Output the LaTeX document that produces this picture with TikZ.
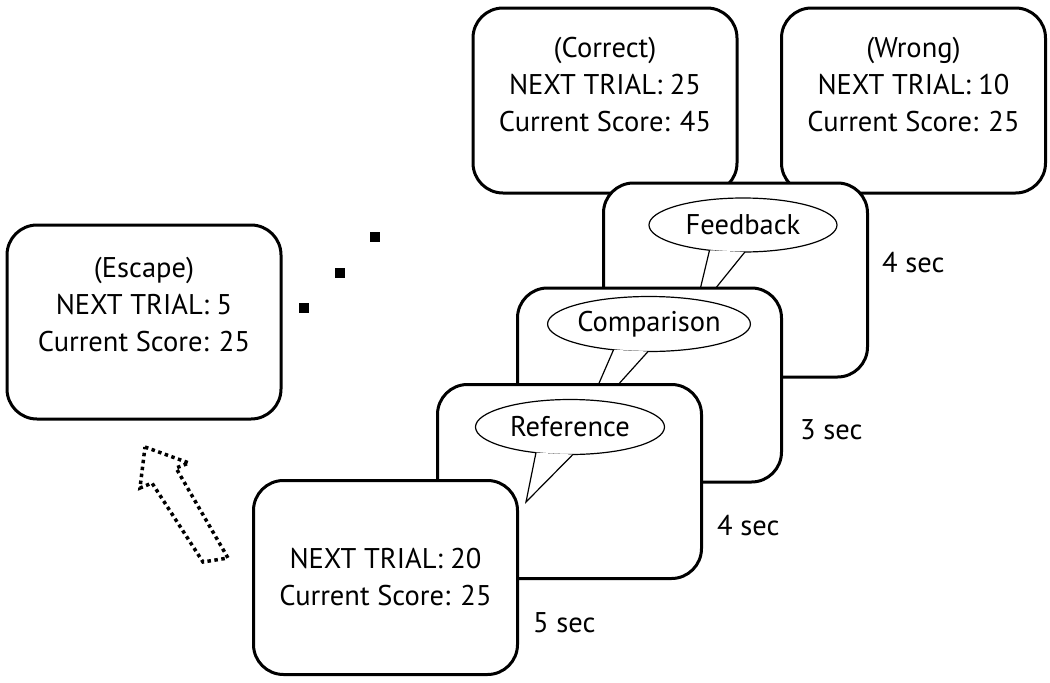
\documentclass[tikz,border=0pt]{standalone}
\usepackage{fontspec}
\setmainfont{PT Sans}
\usetikzlibrary{positioning,shapes.geometric}

\begin{document}
\begin{tikzpicture}
[x=1pt,y=-1pt,
card/.style={draw,line width=3pt,rounded corners=30pt,fill=white,minimum width=264pt,minimum height=194pt},
txt/.style={align=center,font=\fontsize{28.5}{37}\selectfont},
bub/.style={ellipse,draw,line width=1.2pt,fill=white,inner sep=0pt,outer sep=0pt,font=\fontsize{28.5}{37}\selectfont},
sec/.style={anchor=west,inner sep=0pt,font=\fontsize{28.5}{37}\selectfont},
dot/.style={fill=black,inner sep=0pt,minimum size=10pt}]
\useasboundingbox (0,0) rectangle (1050,683);
\node[card,minimum height=185pt] (correct) at (605,100.5) {};
\node[txt] at ([yshift=16pt]correct.center) {(Correct)\\NEXT TRIAL: 25\\Current Score: 45};
\node[card,minimum height=185pt] (wrong) at (913.5,100.5) {};
\node[txt] at ([yshift=16pt]wrong.center) {(Wrong)\\NEXT TRIAL: 10\\Current Score: 25};
\node[card,minimum width=274pt] (escape) at (144,322) {};
\node[txt] at ([yshift=17pt]escape.center) {(Escape)\\NEXT TRIAL: 5\\Current Score: 25};
\node[card] (fbk) at (735.5,280) {};
\node[bub,minimum width=188pt,minimum height=54pt] (fb) at (743,225) {Feedback};
\fill[white] (fb.217) -- (694,315) -- (fb.274) -- cycle;
\draw[line width=1.2pt] (fb.217) -- (694,315) -- (fb.274);
\node[card] (cmpk) at (649.5,385) {};
\node[bub,minimum width=188pt,minimum height=55pt] (cmp) at (649,324) {Comparison};
\fill[white] (cmp.216) -- (580,427) -- (cmp.268) -- cycle;
\draw[line width=1.2pt] (cmp.216) -- (580,427) -- (cmp.268);
\node[card] (refk) at (569.5,481.5) {};
\node[bub,minimum width=189pt,minimum height=55pt] (ref) at (570,427) {Reference};
\fill[white] (ref.217) -- (526,502) -- (ref.276) -- cycle;
\draw[line width=1.2pt] (ref.217) -- (526,502) -- (ref.276);
\node[card] (start) at (385.5,577.5) {};
\node[txt] at (start.center) {NEXT TRIAL: 20\\Current Score: 25};
\node[sec] at (882,263) {4 sec};
\node[sec] at (800,430) {3 sec};
\node[sec] at (717,526) {4 sec};
\node[sec] at (533,623) {5 sec};
\node[dot] (d1) at (375,237) {};
\node[dot] (d2) at (340,273) {};
\node[dot] (d3) at (304,308) {};
\draw[line width=3.5pt,dash pattern=on 3.5pt off 3.5pt] (145,447) -- (189,463) -- (176,468) -- (228,558) -- (203,562) -- (152,483) -- (140,488) -- cycle;
\end{tikzpicture}
\end{document}
